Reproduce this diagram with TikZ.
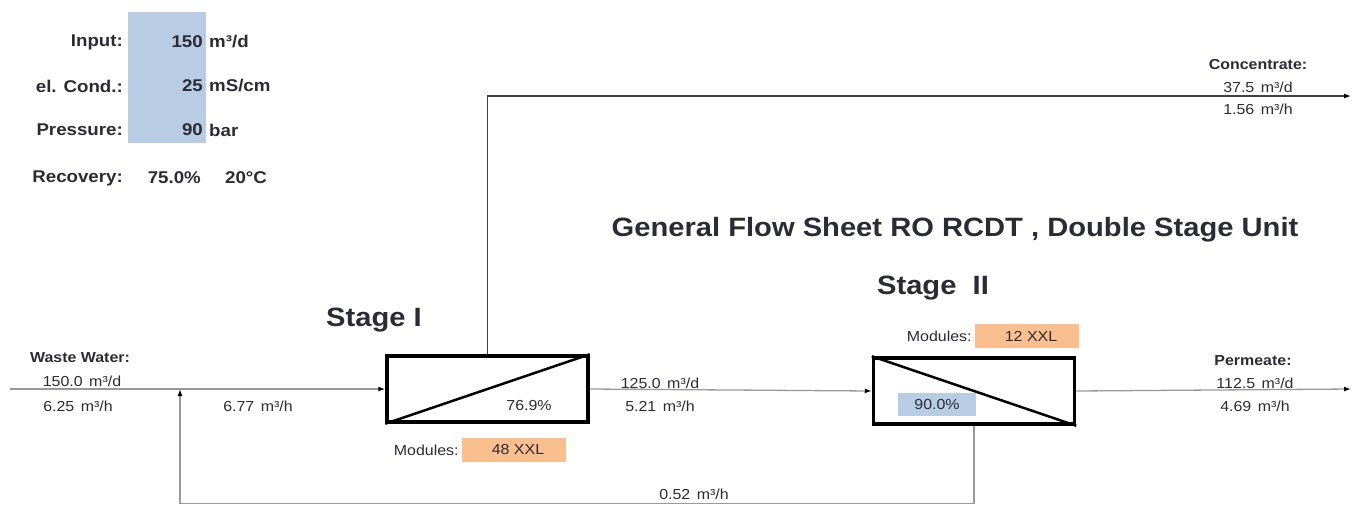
\documentclass[tikz,border=0pt]{standalone}
\usepackage{fontspec}
\setmainfont[FakeStretch=1.1]{Liberation Sans}
\usetikzlibrary{arrows.meta,positioning}
\definecolor{parbg}{HTML}{B8CCE4}
\definecolor{modbg}{HTML}{FABF8F}
\definecolor{txtc}{HTML}{2B2B35}
\definecolor{linec}{HTML}{999999}
\newcommand{\fsp}{\hspace{6.5pt}}
\tikzset{
  ln/.style={linec,line width=1.3pt},
  ar/.style={ln,-{Latex[length=7pt,width=5pt,black]}},
  unit/.style={draw=black,line width=3.5pt,minimum width=201pt,minimum height=66pt,inner sep=0pt},
  sm/.style={font=\fontsize{14.5}{16}\selectfont,text=txtc,inner sep=1pt},
  smb/.style={sm,font=\fontsize{14.5}{16}\selectfont\bfseries},
  par/.style={font=\fontsize{17}{20}\selectfont\bfseries,text=txtc,inner sep=1pt},
  hd/.style={font=\fontsize{26.5}{30}\selectfont\bfseries,text=txtc},
  modbox/.style={sm,fill=modbg,minimum width=104pt,minimum height=24pt}
}
\begin{document}
\begin{tikzpicture}[x=1pt,y=-1pt]
\useasboundingbox (0,0) rectangle (1352,504);
% input parameters
\fill[parbg] (128,12) rectangle (206,143);
\foreach \y/\lab/\val/\un in {42/{Input:}/150/{m³/d},86/{el. Cond.:}/25/{mS/cm},130/{Pressure:}/90/{bar}}{
  \node[par,anchor=east] (pl\y) at (124,\y) {\lab};
  \node[par,anchor=east] (pv\y) at (204,\y) {\val};
  \node[par,anchor=west] (pu\y) at (208,\y) {\un};
}
\node[par,anchor=east] (recl) at (124,178) {Recovery:};
\node[par,anchor=east] (recv) at (202,178) {75.0\%};
\node[par,anchor=west] (temp) at (224,178) {20°C};
% headings
\node[hd] (title) at (955,230) {General Flow Sheet RO RCDT , Double Stage Unit};
\node[hd] (st2) at (933,288) {Stage\ \ II};
\node[hd] (st1) at (374,320) {Stage I};
% stages
\node[unit] (s1) at (487.5,389) {};
\node[unit] (s2) at (974,391) {};
\draw[line width=2.5pt] (s1.south west) -- (s1.north east);
\draw[line width=2.5pt] (s2.north west) -- (s2.south east);
\node[sm] (r1) at (529,406) {76.9\%};
\node[sm,fill=parbg,minimum width=78pt,minimum height=23pt] (r2) at (937,404.5) {90.0\%};
\node[modbox] (m1v) at (514,450) {\hspace{8pt}48 XXL};
\node[sm,left=2pt of m1v] (m1l) {Modules:};
\node[modbox] (m2v) at (1027,336) {\hspace{8pt}12 XXL};
\node[sm,left=2pt of m2v] (m2l) {Modules:};
% connectors
\coordinate (ww) at (10,389);
\coordinate (rc) at (180,389);
\coordinate (conc) at (1351,96);
\coordinate (perm) at (1351,389);
\draw[ar] (ww) -- (s1.west);
\draw[ar] (s1.east) -- (s2.west);
\draw[ar] (s2.east) -- (perm);
\draw[ar,draw=black!75] (s1.north) |- (conc);
\draw[ar] (s2.south) -- ++(0,78) -| (rc);
% flow labels
\node[smb] (wwl) at (80,358) {Waste Water:};
\node[sm] (wwd) at (82,381) {150.0\fsp m³/d};
\node[sm] (wwh) at (78,406) {6.25\fsp m³/h};
\node[sm] (feh) at (258,406) {6.77\fsp m³/h};
\node[sm] (ccd) at (660,383) {125.0\fsp m³/d};
\node[sm] (cch) at (660,406) {5.21\fsp m³/h};
\node[sm] (rch) at (694,494) {0.52\fsp m³/h};
\node[smb] (pml) at (1253,361) {Permeate:};
\node[sm] (pmd) at (1255,383) {112.5\fsp m³/d};
\node[sm] (pmh) at (1255,406) {4.69\fsp m³/h};
\node[smb] (cnl) at (1258,65) {Concentrate:};
\node[sm] (cnd) at (1258,87) {37.5\fsp m³/d};
\node[sm] (cnh) at (1258,109) {1.56\fsp m³/h};
\end{tikzpicture}
\end{document}
